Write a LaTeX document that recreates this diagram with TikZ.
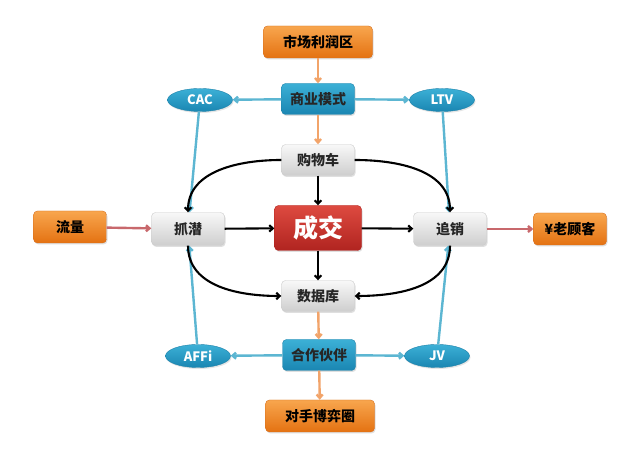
\documentclass[tikz,border=0pt]{standalone}
\usepackage{fontspec}
\setmainfont{Noto Sans CJK SC}
\definecolor{orangetop}{RGB}{248,166,78}
\definecolor{orangebot}{RGB}{228,114,18}
\definecolor{orangeline}{RGB}{214,110,30}
\definecolor{bluetop}{RGB}{60,176,214}
\definecolor{bluebot}{RGB}{26,134,178}
\definecolor{blueline}{RGB}{30,130,170}
\definecolor{redtop}{RGB}{222,74,64}
\definecolor{redbot}{RGB}{176,36,32}
\definecolor{graytop}{RGB}{248,248,248}
\definecolor{graybot}{RGB}{206,206,206}
\definecolor{orangearrow}{RGB}{242,164,106}
\definecolor{bluearrow}{RGB}{92,182,210}
\definecolor{redarrow}{RGB}{200,104,108}
\usetikzlibrary{shapes.geometric, arrows.meta, shadows}

\begin{document}
\begin{tikzpicture}[x=1pt, y=1pt,
  base/.style={rounded corners=4pt, align=center, inner sep=2pt, font=\bfseries\fontsize{14}{16}\selectfont,
    drop shadow={opacity=0.25, shadow xshift=1pt, shadow yshift=-1.5pt}},
  obox/.style={base, draw=orangeline, top color=orangetop, bottom color=orangebot, minimum width=73pt, minimum height=32pt},
  bbox/.style={base, draw=blueline, top color=bluetop, bottom color=bluebot, text=black!85, minimum width=73pt, minimum height=31pt},
  gbox/.style={base, draw=black!20, top color=graytop, bottom color=graybot, text=black!85, minimum width=73pt, minimum height=31pt},
  rbox/.style={base, draw=redbot, top color=redtop, bottom color=redbot, text=white, font=\bfseries\fontsize{25}{28}\selectfont, minimum width=87pt, minimum height=45pt},
  oval/.style={ellipse, draw=blueline, top color=bluetop, bottom color=bluebot, text=white, inner sep=1pt,
    font=\bfseries\fontsize{13}{15}\selectfont, minimum width=65pt, minimum height=23pt,
    drop shadow={opacity=0.2, shadow xshift=1pt, shadow yshift=-1.5pt}},
  oline/.style={draw=orangearrow, line width=2.4pt, -{Straight Barb[length=3.5pt, width=6pt]}},
  bline/.style={draw=bluearrow, line width=2.4pt, -{Straight Barb[length=3.5pt, width=6pt]}},
  rline/.style={draw=redarrow, line width=2.4pt, -{Straight Barb[length=3.5pt, width=6pt]}},
  kline/.style={draw=black, line width=2.1pt, -{Straight Barb[length=3.5pt, width=6.5pt]}}
]
  \fill[white] (0,0) rectangle (640,462);
  \useasboundingbox (0,0) rectangle (640,462);

  % top and bottom column
  \node[obox, minimum width=109pt] (profit) at (318,420) {市场利润区};
  \node[bbox] (model) at (318,363) {商业模式};
  \node[gbox] (cart) at (318,302) {购物车};
  \node[rbox] (deal) at (318,234) {成交};
  \node[gbox] (db) at (318,166) {数据库};
  \node[bbox] (partner) at (319,107) {合作伙伴};
  \node[obox, minimum width=109pt] (rival) at (320,46) {对手博弈圈};

  % middle row
  \node[obox] (traffic) at (70,235) {流量};
  \node[gbox, minimum height=33pt] (lead) at (188,233) {抓潜};
  \node[gbox, minimum height=33pt] (follow) at (450,233) {追销};
  \node[obox] (client) at (570,233) {¥老顾客};

  % ovals
  \node[oval] (cac) at (200,362) {CAC};
  \node[oval] (ltv) at (442,362) {LTV};
  \node[oval] (affi) at (198,106) {AFFi};
  \node[oval] (jv) at (437,106) {JV};

  \draw[oline] (profit) -- (model);
  \draw[oline] (model) -- (cart);
  \draw[oline] (db) -- (partner);
  \draw[oline] (partner) -- (rival);

  \draw[bline] (model) -- (cac);
  \draw[bline] (model) -- (ltv);
  \draw[bline] (partner) -- (affi);
  \draw[bline] (partner) -- (jv);
  \draw[bline] (cac) -- (lead);
  \draw[bline] (ltv) -- (follow);
  \draw[bline] (affi) -- (lead);
  \draw[bline] (jv) -- (follow);

  \draw[rline] (traffic) -- (lead);
  \draw[rline] (follow) -- (client);

  \draw[kline] (cart) -- (deal);
  \draw[kline] (deal) -- (db);
  \draw[kline] (lead) -- (deal);
  \draw[kline] (deal) -- (follow);
  \draw[kline] (cart.west) to[out=180, in=90] (lead.north);
  \draw[kline] (cart.east) to[out=0, in=90] (follow.north);
  \draw[kline] (lead.south) to[out=-90, in=180] (db.west);
  \draw[kline] (follow.south) to[out=-90, in=0] (db.east);
\end{tikzpicture}
\end{document}
